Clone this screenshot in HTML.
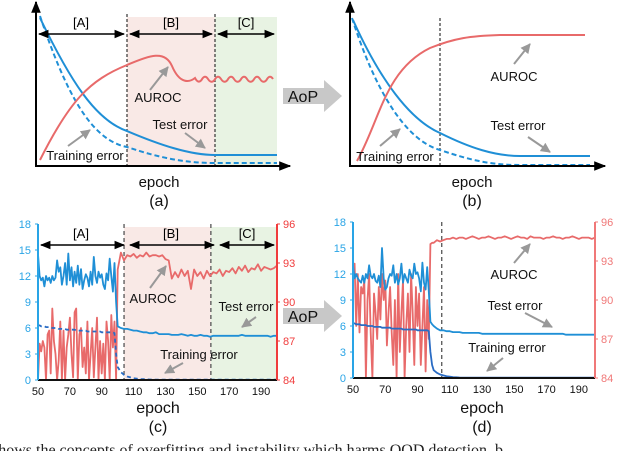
<!DOCTYPE html>
<html><head><meta charset="utf-8"><style>
html,body{margin:0;padding:0;background:#fff;width:640px;height:451px;overflow:hidden}
svg{display:block;font-family:"Liberation Sans",sans-serif}
</style></head><body>
<svg id="fig" width="640" height="451" viewBox="0 0 640 451" xmlns="http://www.w3.org/2000/svg">
<defs>
<marker id="ah" viewBox="0 0 10 10" refX="9" refY="5" markerWidth="7" markerHeight="7" orient="auto-start-reverse"><path d="M0,1 L10,5 L0,9 z" fill="#000"/></marker>
<marker id="ga" viewBox="0 0 10 10" refX="9" refY="5" markerWidth="5" markerHeight="5" orient="auto"><path d="M0,0 L10,5 L0,10 z" fill="#999"/></marker>
<marker id="ax" viewBox="0 0 10 10" refX="9" refY="5" markerWidth="6" markerHeight="6" orient="auto"><path d="M0,1 L10,5 L0,9 z" fill="#000"/></marker>
</defs>
<g id="root"></g>
<text x="-8" y="455" font-family="Liberation Serif, serif" font-size="16" fill="#222">shows the concepts of overfitting and instability which harms OOD detection. b</text>
</svg>
<script>
// ---- data (c) ----
const epochsEarly=[50,51,52,53,54,55,56,57,58,59,60,61,62,63,64,65,66,67,68,69,70,71,72,73,74,75,76,77,78,79,80,81,82,83,84,85,86,87,88,89,90,91,92,93,94,95,96,97,98,99];
const epochsLate=[100,102,104,106,108,110,112,114,116,118,120,122,124,126,128,130,132,134,136,138,140,142,144,146,148,150,152,154,156,158,160,162,164,166,168,170,172,174,176,178,180,182,184,186,188,190,192,194,196,198,200];
const cTestEarly=[14.5,12,11.5,11.8,10.8,12,11.5,11.8,11.2,12,11.5,11.8,13.8,12.5,13,11,12,13.5,11,14.6,11.5,13,10.8,12.5,11.2,13.2,11,12.8,10.5,11.5,12.2,11.8,10.8,12.5,11,14.2,12,11.2,12.5,11.8,12.2,11,10.5,12.3,11.5,14,12,10.2,13.5,9];
const cTestLate=[6.2,6,5.9,5.9,5.8,5.7,5.7,5.6,5.5,5.5,5.4,5.4,5.5,5.3,5.3,5.3,5.3,5.2,5.2,5.2,5.3,5.2,5.1,5.2,5.1,5.1,5.2,5.1,5.1,5.0,5.1,5.1,5.1,5.1,5.1,5.1,5.1,5.1,5.1,5.2,5.1,5.1,5.1,5.1,5.1,5.1,5.1,5.1,5.0,5.1,5.1];
const cTrainEarly=[6.3,6.3,6.2,6.2,6.2,6.1,6.1,6.1,6.1,6.0,6.0,6.0,6.0,5.9,5.9,5.9,5.9,5.9,5.8,5.8,5.8,5.8,5.8,5.8,5.7,5.7,5.7,5.7,5.7,5.7,5.7,5.6,5.6,5.6,5.6,5.6,5.6,5.6,5.6,5.6,5.5,5.5,5.5,5.5,5.5,5.5,5.5,5.5,5.4,3.0];
const cTrainLate=[1.5,0.9,0.6,0.4,0.3,0.2,0.15,0.1,0.1,0.08,0.06,0.05,0.05,0.05,0.04,0.04,0.04,0.03,0.03,0.03,0.03,0.03,0.03,0.03,0.03,0.03,0.03,0.03,0.03,0.03,0.03,0.03,0.03,0.03,0.03,0.03,0.03,0.03,0.03,0.03,0.03,0.03,0.03,0.03,0.03,0.03,0.03,0.03,0.03,0.03,0.03];
const cAurocEarly=[84,86.8,86.2,87,86.5,84,87.5,87.8,84.5,89.5,87,86,84,85.5,88.5,84,87.8,84,86.5,87.5,88.8,86,84.2,89.2,89.5,84,87.5,88,85,86.5,84.5,88.5,84,86,88,84.2,86.5,88.8,84,87,84.5,86.8,84,88.5,87,84,89,86.5,88.5,84];
const cAurocLate=[92.5,93.8,93.2,93.6,93.5,93.7,93.4,93.6,93.5,93.8,93.5,93.6,93.6,93.5,93.6,93.3,93.2,91.8,92.3,91.9,92.5,92,92.4,91,92.5,92,92.3,91.8,92.4,92,92.3,92.2,92.5,92,92.4,92.3,92.6,92.2,92.7,92.4,92.8,92.3,92.6,92.5,92.9,92.4,92.7,92.6,92.5,92.6,92.8];
// ---- data (d) ----
const dTestEarly=[13,11.5,12,11.5,11.2,11,11.8,11,12,11.5,13,11.8,11.5,12,11.2,11,11.8,10.5,15,11.5,10.2,10.5,11.5,12,11.8,13,11,12,10.8,11.5,13.2,11,12,11.5,11,12.5,11.8,11.5,13.2,12,12.2,11.5,10,13.3,11,10.2,12.8,10,6.5,6.2];
const dTestLate=[6.0,5.7,5.5,5.5,5.4,5.4,5.3,5.3,5.3,5.2,5.2,5.2,5.2,5.2,5.2,5.1,5.1,5.1,5.1,5.1,5.1,5.1,5.1,5.1,5.1,5.1,5.1,5.1,5.1,5.1,5.1,5.1,5.1,5.1,5.1,5.1,5.1,5.1,5.1,5.1,5.1,5.0,5.0,5.0,5.0,5.0,5.0,5.0,5.0,5.0,5.0];
const dTrainEarly=[6.3,6.3,6.2,6.2,6.2,6.1,6.1,6.1,6.1,6.0,6.0,6.0,6.0,5.9,5.9,5.9,5.9,5.9,5.8,5.8,5.8,5.8,5.8,5.8,5.7,5.7,5.7,5.7,5.7,5.7,5.7,5.6,5.6,5.6,5.6,5.6,5.6,5.6,5.6,5.6,5.5,5.5,5.5,5.5,5.5,5.5,5.5,5.4,3.0,1.5];
const dTrainLate=[0.9,0.6,0.4,0.3,0.2,0.15,0.1,0.08,0.06,0.05,0.05,0.04,0.04,0.04,0.03,0.03,0.03,0.03,0.03,0.03,0.03,0.03,0.03,0.03,0.03,0.03,0.03,0.03,0.03,0.03,0.03,0.03,0.03,0.03,0.03,0.03,0.03,0.03,0.03,0.03,0.03,0.03,0.03,0.03,0.03,0.03,0.03,0.03,0.03,0.03,0.03];
const dAurocEarly=[91.5,92.8,88,92,87.5,91,90.5,91.5,84,90,92,87.5,84,90.5,89,87,91,88.5,92,90,91.5,86.5,89,91,87.5,85,90,84,92,86,89,91.5,84,88,90.5,86,92,89,85,91,88,90.5,85,88,91,84.5,90,87,94.3,94.4];
const dAurocLate=[94.4,94.6,94.5,94.6,94.7,94.7,94.8,94.7,94.8,94.8,94.7,94.8,94.9,94.8,94.7,94.8,94.8,94.9,94.8,94.7,94.8,94.8,94.9,94.8,94.7,94.8,94.9,94.8,94.8,94.7,94.9,94.8,94.8,94.8,94.7,94.8,94.8,94.9,94.8,94.8,94.7,94.8,94.8,94.9,94.8,94.7,94.8,94.8,94.8,94.7,94.8];
const leftTicks=[0,3,6,9,12,15,18];
const rightTicks=[84,87,90,93,96];
const xTicks=[50,70,90,110,130,150,170,190];

const NS="http://www.w3.org/2000/svg";
const root=document.getElementById('root');
function el(tag,attrs,parent,txt){const e=document.createElementNS(NS,tag);for(const k in attrs)e.setAttribute(k,attrs[k]);if(txt!==undefined)e.textContent=txt;(parent||root).appendChild(e);return e;}
const BLUE="#1f8fd6",DBLUE="#2a6cc4",RED="#e86a6a",GRAY="#999";

function schematic(p){
  const g=el('g',{});
  
  
  if(p.regions){
    const r1=el('rect',{x:127,y:17,width:88,height:149,fill:"#f9e9e6"},g);
    
    const r2=el('rect',{x:215,y:17,width:62,height:149,fill:"#e8f3e3"},g);
    
  }
  p.vlines.forEach(x=>{const l=el('line',{x1:x,y1:p.vtop,x2:x,y2:166,stroke:"#333","stroke-width":1.2,"stroke-dasharray":"3,2"},g);});
  let a=el('path',{d:p.test,fill:"none",stroke:BLUE,"stroke-width":2},g);
  a=el('path',{d:p.train,fill:"none",stroke:BLUE,"stroke-width":2,"stroke-dasharray":"5,3"},g);
  a=el('path',{d:p.auroc,fill:"none",stroke:RED,"stroke-width":2},g);
  a=el('path',{d:`M${p.x0},167 L${p.x0},2`,stroke:"#000","stroke-width":2,"marker-end":"url(#ax)"},g);
  a=el('path',{d:`M${p.x0-1},166 L${p.x1},166`,stroke:"#000","stroke-width":2,"marker-end":"url(#ax)"},g);
}
let wig="M40,160 C70,100 90,80 127,65 C150,55 165,50 172,66 C180,85 190,82 195,78";
for(let x=195;x+13<=277;x+=13){wig+=` Q${x+3.25},84 ${x+6.5},80 Q${x+9.75},74 ${x+13},79`;}
schematic({name:'panel-a',regions:true,vlines:[127,215],vtop:14,x0:36,x1:290,
  test:"M40,18 C70,80 95,120 127,131 C160,145 190,155 215,155 L277,155",
  train:"M40,16 C65,90 90,140 127,147 C160,158 185,163 215,163 L277,163",
  auroc:wig});
schematic({name:'panel-b',regions:false,vlines:[440],vtop:18,x0:350,x1:605,
  test:"M353,20 C380,80 410,120 440,133 C470,148 495,156 520,156 L590,156",
  train:"M352,18 C375,90 405,140 440,150 C470,160 490,165 520,165 L590,165",
  auroc:"M357,161 C380,120 385,70 430,48 C455,38 470,36 500,35 L585,35"});
[[37,126,'[A]',81],[128,214,'[B]',171],[216,276,'[C]',246]].forEach(s=>{
  const l=el('line',{x1:s[0]+2,y1:34,x2:s[1]-2,y2:34,stroke:"#000","stroke-width":1.5,"marker-start":"url(#ah)","marker-end":"url(#ah)"});
  
  const t=el('text',{x:s[3],y:27,"font-size":13,"text-anchor":"middle"},root,s[2]);
  
});
function label(x,y,txt,name,size){const t=el('text',{x:x,y:y,"font-size":size||13,"text-anchor":"middle",fill:"#111"},root,txt);return t;}
function garrow(x1,y1,x2,y2){const a=el('line',{x1,y1,x2,y2,stroke:GRAY,"stroke-width":2,"marker-end":"url(#ga)"});}
label(158,102,'AUROC','auroc-label');garrow(150,90,168,67);
label(180,129,'Test error','test-error-label');garrow(185,133,205,148);
label(85,160,'Training error','training-error-label');garrow(68,146,90,130);
label(159,187,'epoch','x-axis-title',15);label(159,206,'(a)','panel-label-a',16);
label(514,81,'AUROC','auroc-label');garrow(514,64,530,44);
label(518,130,'Test error','test-error-label');garrow(528,137,550,152);
label(395,161,'Training error','training-error-label');garrow(380,146,400,129);
label(472,187,'epoch','x-axis-title',15);label(472,206,'(b)','panel-label-b',16);

function aop(cy){
  const g=el('g',{});
  el('path',{d:`M283,${cy-8} L324,${cy-8} L324,${cy-16} L342,${cy} L324,${cy+16} L324,${cy+8} L283,${cy+8} z`,fill:"#c8c8c8"},g);
  const t=el('text',{x:303,y:cy+6,"font-size":16,"text-anchor":"middle",fill:"#111"},g,'AoP');
  
}
aop(96);aop(316);

function chart(p){
  const xs=e=>p.x0+(e-50)/150*(p.x1-p.x0);
  const yl=v=>p.yb-v/18*(p.yb-p.yt);
  const yr=v=>p.yb-(v-84)/12*(p.yb-p.yt);
  const g=el('g',{});
  if(p.regions){
    let r=el('rect',{x:xs(104),y:p.yt+3,width:xs(158.5)-xs(104),height:p.yb-p.yt-3,fill:"#f9e9e6"},g);
    r=el('rect',{x:xs(158.5),y:p.yt+3,width:p.x1-xs(158.5),height:p.yb-p.yt-3,fill:"#e8f3e3"},g);
  }
  p.vl.forEach(e=>{const l=el('line',{x1:xs(e),y1:p.yt,x2:xs(e),y2:p.yb,stroke:"#555","stroke-width":1.3,"stroke-dasharray":"4,3"},g);});
  const ep=epochsEarly.concat(epochsLate);
  function line(vals,f,stroke,dash,name){
    const d=vals.map((v,i)=>(i?'L':'M')+xs(ep[i]).toFixed(1)+','+f(v).toFixed(1)).join(' ');
    const a=el('path',{d,fill:"none",stroke,"stroke-width":1.8,"stroke-dasharray":dash||"none","stroke-linejoin":"round"},g);
    
  }
  line(p.auroc,yr,RED,null,'auroc-series');
  line(p.train,yl,DBLUE,p.dashed?"4,3":null,'training-error-series');
  line(p.test,yl,BLUE,null,'test-error-series');
  let a=el('line',{x1:p.x0,y1:p.yb,x2:p.x1,y2:p.yb,stroke:"#111","stroke-width":2},g);
  a=el('line',{x1:p.x0,y1:p.yt,x2:p.x0,y2:p.yb,stroke:"#29a4e6","stroke-width":2},g);
  a=el('line',{x1:p.x1,y1:p.yt,x2:p.x1,y2:p.yb,stroke:p.rc,"stroke-width":2},g);
  leftTicks.forEach(v=>{const t=el('text',{x:p.x0-7,y:yl(v)+4,"font-size":11,"text-anchor":"end",fill:"#29a4e6"},g,String(v));
    const k=el('line',{x1:p.x0-3,y1:yl(v),x2:p.x0,y2:yl(v),stroke:"#29a4e6","stroke-width":1},g);});
  rightTicks.forEach(v=>{const t=el('text',{x:p.x1+6,y:yr(v)+4,"font-size":11,fill:p.rc},g,String(v));
    const k=el('line',{x1:p.x1,y1:yr(v),x2:p.x1+3,y2:yr(v),stroke:p.rc,"stroke-width":1},g);});
  xTicks.forEach(v=>{const t=el('text',{x:xs(v),y:p.yb+15,"font-size":11,"text-anchor":"middle",fill:"#111"},g,String(v));});
}
chart({name:'panel-c',x0:38,x1:277,yt:224,yb:380,regions:true,vl:[104,158.5],rc:"#f03c3c",dashed:true,
  test:cTestEarly.concat(cTestLate),train:cTrainEarly.concat(cTrainLate),auroc:cAurocEarly.concat(cAurocLate)});
chart({name:'panel-d',x0:353,x1:595,yt:222,yb:378,regions:false,vl:[105],rc:"#f07878",dashed:false,
  test:dTestEarly.concat(dTestLate),train:dTrainEarly.concat(dTrainLate),auroc:dAurocEarly.concat(dAurocLate)});
[[39,126,'[A]',81],[128,216,'[B]',171],[218,276,'[C]',247]].forEach(s=>{
  const l=el('line',{x1:s[0]+2,y1:245,x2:s[1]-2,y2:245,stroke:"#000","stroke-width":1.5,"marker-start":"url(#ah)","marker-end":"url(#ah)"});
  
  const t=el('text',{x:s[3],y:238,"font-size":13,"text-anchor":"middle"},root,s[2]);
  
});
label(153,303,'AUROC','auroc-label');garrow(150,288,166,266);
label(246,311,'Test error','test-error-label');garrow(256,317,242,327);
label(199,359,'Training error','training-error-label');garrow(183,363,165,373);
label(158,413,'epoch','x-axis-title',16);label(158,432,'(c)','panel-label-c',16);
label(514,279,'AUROC','auroc-label');garrow(514,263,530,244);
label(515,310,'Test error','test-error-label');garrow(525,313,552,327);
label(507,352,'Training error','training-error-label');garrow(503,358,487,371);
label(482,413,'epoch','x-axis-title',16);label(482,432,'(d)','panel-label-d',16);
</script>
</body></html>
